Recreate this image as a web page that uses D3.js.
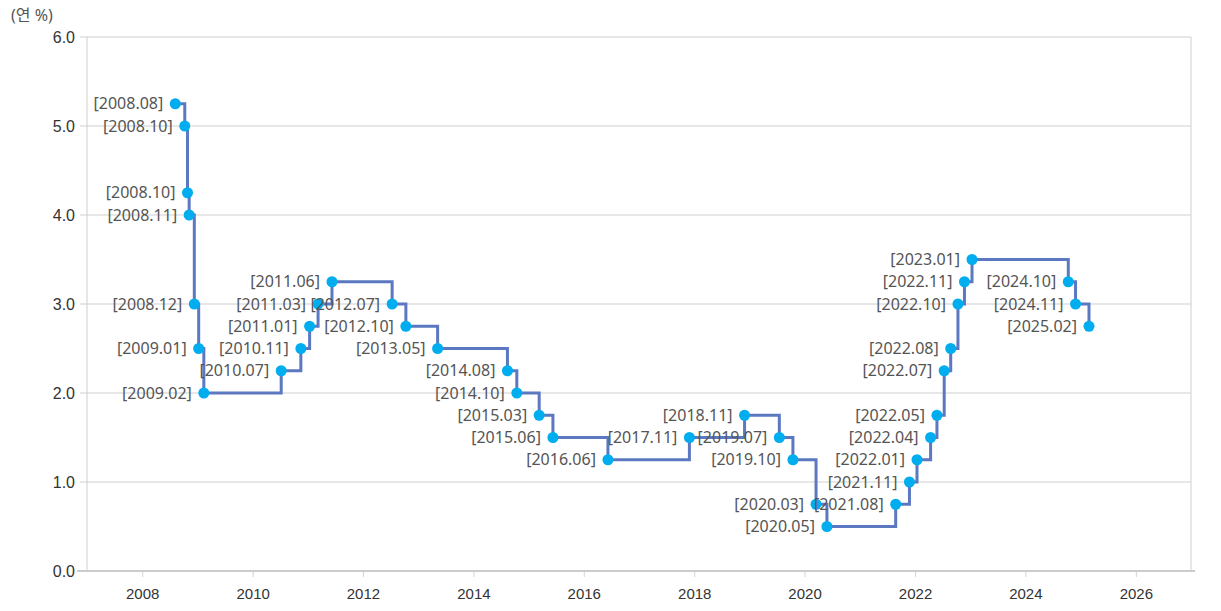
<!DOCTYPE html>
<html>
<head>
<meta charset="utf-8">
<script src="https://cdn.jsdelivr.net/npm/d3@7"></script>
<style>
    body { margin: 0; background: #fff; }
    svg { font-family: "Noto Sans", "Noto Sans CJK KR", sans-serif; }
</style>
</head>
<body>
<div id="chart"></div>
<script>
'use strict';

// decision dates and base rate after the decision
const dates = [
    '2008-08-07', '2008-10-09', '2008-10-27', '2008-11-07', '2008-12-11',
    '2009-01-09', '2009-02-12', '2010-07-09', '2010-11-16', '2011-01-13',
    '2011-03-10', '2011-06-10', '2012-07-12', '2012-10-11', '2013-05-09',
    '2014-08-14', '2014-10-15', '2015-03-12', '2015-06-11', '2016-06-09',
    '2017-11-30', '2018-11-30', '2019-07-18', '2019-10-16', '2020-03-17',
    '2020-05-28', '2021-08-26', '2021-11-25', '2022-01-14', '2022-04-14',
    '2022-05-26', '2022-07-13', '2022-08-25', '2022-10-12', '2022-11-24',
    '2023-01-13', '2024-10-11', '2024-11-28', '2025-02-25'
];
const rates = [
    5.25, 5.00, 4.25, 4.00, 3.00,
    2.50, 2.00, 2.25, 2.50, 2.75,
    3.00, 3.25, 3.00, 2.75, 2.50,
    2.25, 2.00, 1.75, 1.50, 1.25,
    1.50, 1.75, 1.50, 1.25, 0.75,
    0.50, 0.75, 1.00, 1.25, 1.50,
    1.75, 2.25, 2.50, 3.00, 3.25,
    3.50, 3.25, 3.00, 2.75
];
const xTicks = [2008, 2010, 2012, 2014, 2016, 2018, 2020, 2022, 2024, 2026];
const yTicks = [0, 1, 2, 3, 4, 5, 6];
const unitLabel = '(연 %)';

const parseDate = d3.timeParse('%Y-%m-%d');
const fmtLabel = d3.timeFormat('[%Y.%m]');

let dataset = dates.map((d, i) => ({ date: parseDate(d), rate: rates[i] }));

let dim = {
    width: 1221,
    height: 611,
    top: 37,
    left: 87,
    right: 30,
    bottom: 40
};
dim.chartwidth = dim.width - dim.left - dim.right;
dim.chartheight = dim.height - dim.top - dim.bottom;

let svg = d3.select('#chart')
    .append('svg')
    .attr('width', dim.width)
    .attr('height', dim.height);

let g = svg.append('g')
    .attr('transform', 'translate(' + dim.left + ',' + dim.top + ')');

const xScale = d3.scaleTime()
    .range([0, dim.chartwidth])
    .domain([new Date(2007, 0, 1), new Date(2027, 0, 1)]);

const yScale = d3.scaleLinear()
    .range([dim.chartheight, 0])
    .domain([0, 6]);

// horizontal grid lines
g.append('g')
    .selectAll('line')
    .data(yTicks.filter(t => t > 0))
    .enter()
    .append('line')
    .attr('x1', -7)
    .attr('x2', dim.chartwidth)
    .attr('y1', d => yScale(d))
    .attr('y2', d => yScale(d))
    .attr('stroke', '#cfcfcf')
    .attr('stroke-width', 1);

// left and right frame
g.append('line')
    .attr('x1', 0).attr('x2', 0)
    .attr('y1', 0).attr('y2', dim.chartheight)
    .attr('stroke', '#cfcfcf');
g.append('line')
    .attr('x1', dim.chartwidth).attr('x2', dim.chartwidth)
    .attr('y1', 0).attr('y2', dim.chartheight)
    .attr('stroke', '#cfcfcf');

// y axis
let yAxis = g.append('g')
    .call(d3.axisLeft(yScale).tickValues(yTicks).tickFormat(d3.format('.1f')).tickSize(0).tickPadding(12));
yAxis.select('.domain').remove();
yAxis.selectAll('text')
    .attr('fill', '#333')
    .style('font-size', '16px');

// x axis
let xAxis = g.append('g')
    .attr('transform', `translate(0, ${dim.chartheight})`)
    .call(d3.axisBottom(xScale)
        .tickValues(xTicks.map(y => new Date(y, 0, 1)))
        .tickFormat(d3.timeFormat('%Y'))
        .tickSize(6)
        .tickPadding(11));
xAxis.select('.domain').remove();
xAxis.selectAll('.tick line').attr('stroke', '#d4d4d4');
xAxis.selectAll('text')
    .attr('fill', '#333')
    .style('font-size', '15px');
g.append('line')
    .attr('x1', -10).attr('x2', dim.chartwidth + 4)
    .attr('y1', dim.chartheight).attr('y2', dim.chartheight)
    .attr('stroke', '#cccccc')
    .attr('stroke-width', 2);

// unit label
svg.append('text')
    .attr('x', 11)
    .attr('y', 21)
    .attr('fill', '#555')
    .style('font-size', '16px')
    .text(unitLabel);

// step line
const line = d3.line()
    .x(d => xScale(d.date))
    .y(d => yScale(d.rate))
    .curve(d3.curveStepAfter);

g.append('path')
    .datum(dataset)
    .attr('d', line)
    .attr('fill', 'none')
    .attr('stroke', '#5b78c0')
    .attr('stroke-width', 3);

let points = g.selectAll('.pt')
    .data(dataset)
    .enter()
    .append('g')
    .attr('class', 'pt');

points.append('circle')
    .attr('cx', d => xScale(d.date))
    .attr('cy', d => yScale(d.rate))
    .attr('r', 5.5)
    .attr('fill', '#00aeef');

points.append('text')
    .text(d => fmtLabel(d.date))
    .attr('x', d => xScale(d.date) - 12)
    .attr('y', d => yScale(d.rate))
    .attr('dy', '0.35em')
    .attr('text-anchor', 'end')
    .attr('fill', '#555')
    .style('font-size', '16px');
</script>
</body>
</html>
